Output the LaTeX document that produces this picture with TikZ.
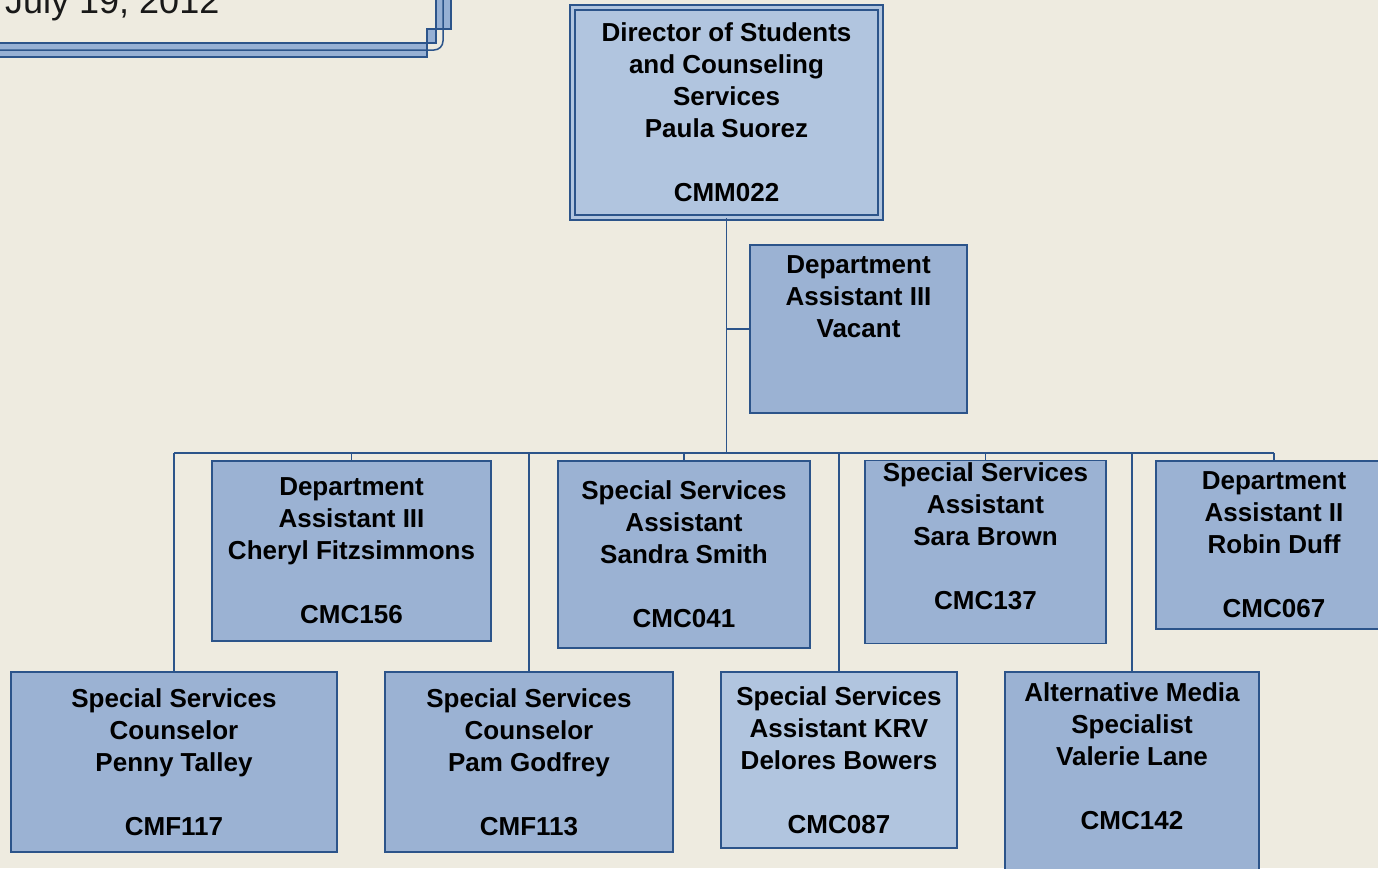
\documentclass[tikz,border=0pt]{standalone}
\usepackage{fontspec}
\setmainfont{Liberation Sans}
\usepackage{tikz}
\definecolor{bg}{RGB}{238,235,224}
\definecolor{boxfill}{RGB}{155,178,211}
\definecolor{boxlight}{RGB}{177,197,223}
\definecolor{edge}{RGB}{44,84,138}
\definecolor{bandfill}{RGB}{150,176,212}
\tikzset{%
  wire/.style = {draw=edge,line width=1.6pt},
  frame/.style = {draw=edge,line width=1.5pt},
  pbox/.style = {rectangle,draw=edge,line width=1.5pt,fill=boxfill,
        align=center,inner sep=2pt,
        font=\fontsize{26}{32}\selectfont\bfseries},
  pboxl/.style = {pbox,fill=boxlight}
}
\begin{document}
\begin{tikzpicture}[x=1pt,y=-1pt]
  \useasboundingbox (0,0) rectangle (1378,868);
  \fill[bg] (0,0) rectangle (1378,868);
  \clip (0,0) rectangle (1378,868);
  % date panel
  \node[anchor=base west,inner sep=0pt,text=black!90,
        font=\fontsize{36}{40}\selectfont] (date) at (5,13) {July 19, 2012};
  \fill[bandfill] (0,43) -- (436,43) -- (436,0) -- (451,0) -- (451,29)
        -- (427,29) -- (427,57) -- (0,57) -- cycle;
  \draw[frame] (0,43) -- (436,43) -- (436,0);
  \draw[frame,rounded corners=9pt] (0,50) -- (443,50) -- (443,0);
  \draw[frame] (0,57) -- (427,57) -- (427,29) -- (451,29) -- (451,0);
  % boxes
  \node[pboxl,double=boxlight,double distance=3.5pt,minimum width=308pt,
        minimum height=210pt] (dir) at (726.5,112.5)
        {Director of Students\\and Counseling\\Services\\Paula Suorez\\[32pt]CMM022};
  \node[pbox,minimum width=217pt,minimum height=168pt] (vac) at (858.5,329)
        {Department\\Assistant III\\Vacant\\[32pt]\mbox{}};
  \node[pbox,minimum width=279pt,minimum height=180pt] (cher) at (351.5,551)
        {Department\\Assistant III\\Cheryl Fitzsimmons\\[32pt]CMC156};
  \node[pbox,minimum width=252pt,minimum height=187pt] (sand) at (684,554.5)
        {Special Services\\Assistant\\Sandra Smith\\[32pt]CMC041};
  \node[pbox,minimum width=241pt,minimum height=182pt] (sara) at (985.5,552)
        {Special Services\\Assistant\\Sara Brown\\[32pt]CMC137\\\mbox{}};
  \node[pbox,minimum width=236pt,minimum height=168pt] (robin) at (1274,545)
        {Department\\Assistant II\\Robin Duff\\[32pt]CMC067};
  \node[pbox,minimum width=326pt,minimum height=180pt] (penny) at (174,762)
        {Special Services\\Counselor\\Penny Talley\\[32pt]CMF117};
  \node[pbox,minimum width=288pt,minimum height=180pt] (pam) at (529,762)
        {Special Services\\Counselor\\Pam Godfrey\\[32pt]CMF113};
  \node[pboxl,minimum width=236pt,minimum height=176pt] (delo) at (839,760)
        {Special Services\\Assistant KRV\\Delores Bowers\\[32pt]CMC087};
  \node[pbox,minimum width=254pt,minimum height=200pt] (val) at (1132,772)
        {Alternative Media\\Specialist\\Valerie Lane\\[32pt]CMC142\\\mbox{}};
  % connectors
  \coordinate (bus) at (726,453);
  \draw[wire] (dir.south) -- (dir.south |- bus);
  \draw[wire] (dir.south |- vac.west) -- (vac.west);
  \draw[wire] (penny.north |- bus) -- (robin.north |- bus);
  \foreach \n in {cher,sand,sara,robin,penny,pam,delo,val}
    \draw[wire] (\n.north |- bus) -- (\n.north);
\end{tikzpicture}
\end{document}
